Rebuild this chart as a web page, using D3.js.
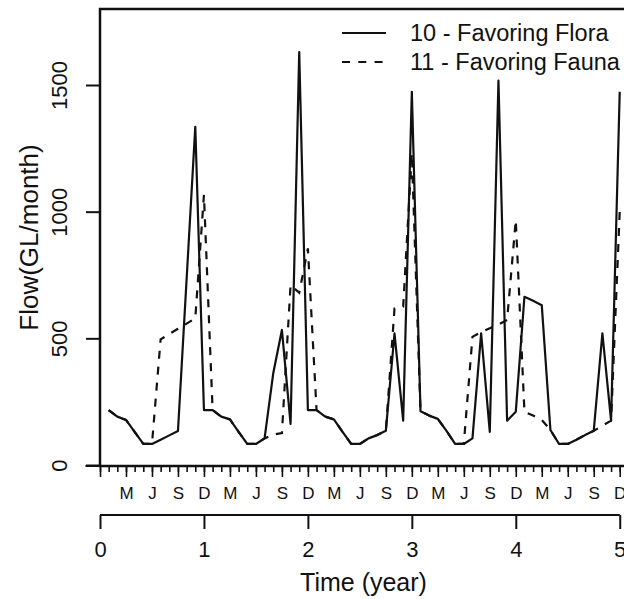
<!DOCTYPE html>
<html>
<head>
<meta charset="utf-8">
<script src="https://cdn.jsdelivr.net/npm/d3@7"></script>
<style>
  body { margin: 0; background: #fff; }
  svg { display: block; font-family: "Liberation Sans", Arial, sans-serif; }
</style>
</head>
<body>
<svg id="plot" width="624" height="599"></svg>
<script>
// monthly flow (GL/month), month 1 = Jan of year 1 ... month 60 = Dec of year 5
var months = d3.range(1, 61)

var flora = [
  217, 191, 178, 131, 83, 83, 100, 117, 134, 734, 1335, 217,
  217, 191, 180, 131, 83, 83, 105, 362, 533, 162, 1630, 217,
  217, 191, 180, 131, 83, 83, 105, 118, 135, 520, 175, 1473,
  212, 195, 182, 135, 83, 83, 105, 520, 131, 1517, 175, 210,
  664, 648, 631, 138, 83, 83, 100, 118, 135, 520, 175, 1473
]

var fauna = [
  217, 191, 178, 131, 83, 83, 496, 517, 538, 558, 579, 1066,
  217, 191, 180, 131, 83, 83, 105, 120, 126, 710, 680, 855,
  217, 191, 180, 131, 83, 83, 105, 118, 135, 618, 625, 1230,
  212, 195, 182, 135, 83, 83, 506, 525, 540, 555, 572, 967,
  210, 195, 178, 138, 83, 83, 100, 118, 135, 155, 175, 1000
]

var monthLabels = ["M", "J", "S", "D"]
var yearTicks = [0, 1, 2, 3, 4, 5]
var flowTicks = [0, 500, 1000, 1500]
var seriesNames = ["10 - Favoring Flora", "11 - Favoring Fauna"]

var plotLeft = 100, plotTop = 9, plotRight = 627, plotBottom = 466

var svg = d3.select("svg#plot")

var x = d3.scaleLinear().domain([0, 5.07]).range([plotLeft, plotRight])
var y = d3.scaleLinear().domain([0, 1800]).range([plotBottom - 1, plotTop])

var line = d3.line()
  .x(function(d) { return x(d.m / 12) })
  .y(function(d) { return y(d.v) })

function toPoints(vals) {
  return months.map(function(m, i) { return {m: m, v: vals[i]} })
}

// plot box
svg.append("rect")
  .attr("x", plotLeft).attr("y", plotTop)
  .attr("width", 560).attr("height", plotBottom - plotTop)
  .attr("fill", "none")
  .attr("stroke", "#111")
  .attr("stroke-width", 2.5)

// y axis
var yAxis = svg.append("g")
  .attr("transform", "translate(" + plotLeft + ",0)")
  .call(d3.axisLeft(y).tickValues(flowTicks).tickSize(14).tickFormat(d3.format("d")))
yAxis.select(".domain").remove()
yAxis.selectAll("line").attr("stroke", "#111").attr("stroke-width", 2)
yAxis.selectAll("text")
  .attr("x", null).attr("dy", null)
  .attr("text-anchor", "middle")
  .attr("transform", "translate(-33,0) rotate(-90)")
  .attr("fill", "#111")
  .style("font-size", "22px")

// month axis
var monthAxis = svg.append("g")
  .attr("transform", "translate(0," + plotBottom + ")")
  .call(d3.axisBottom(x).tickValues(d3.range(0, 61).map(function(m) { return m / 12 }))
    .tickSize(6).tickFormat(""))
monthAxis.select(".domain").remove()
monthAxis.selectAll("line").attr("stroke", "#111").attr("stroke-width", 1.6)

var quarterAxis = svg.append("g")
  .attr("transform", "translate(0," + plotBottom + ")")
  .call(d3.axisBottom(x).tickValues(d3.range(0, 61, 3).map(function(m) { return m / 12 }))
    .tickSize(11)
    .tickFormat(function(d, i) { return i == 0 ? "" : monthLabels[(i - 1) % 4] }))
quarterAxis.select(".domain").remove()
quarterAxis.selectAll("line").attr("stroke", "#111").attr("stroke-width", 1.6)
quarterAxis.selectAll("text")
  .attr("y", 27).attr("dy", "0.36em")
  .attr("fill", "#111")
  .style("font-size", "17px")

svg.append("line")
  .attr("x1", x(-0.14)).attr("x2", x(5.07))
  .attr("y1", plotBottom).attr("y2", plotBottom)
  .attr("stroke", "#111").attr("stroke-width", 2)

// year axis
var yearY = 515
var yearAxis = svg.append("g")
  .attr("transform", "translate(0," + yearY + ")")
  .call(d3.axisBottom(x).tickValues(yearTicks).tickSize(14).tickFormat(d3.format("d")))
yearAxis.select(".domain").remove()
yearAxis.selectAll("line").attr("stroke", "#111").attr("stroke-width", 2)
yearAxis.selectAll("text")
  .attr("y", 42).attr("dy", null)
  .attr("fill", "#111")
  .style("font-size", "22px")

svg.append("line")
  .attr("x1", x(0)).attr("x2", x(5))
  .attr("y1", yearY).attr("y2", yearY)
  .attr("stroke", "#111").attr("stroke-width", 2)

// axis titles
svg.append("text")
  .attr("x", (plotLeft + plotRight) / 2).attr("y", 591)
  .attr("text-anchor", "middle")
  .attr("fill", "#111")
  .style("font-size", "25px")
  .text("Time (year)")

svg.append("text")
  .attr("transform", "translate(38," + ((plotTop + plotBottom) / 2) + ") rotate(-90)")
  .attr("text-anchor", "middle")
  .attr("fill", "#111")
  .style("font-size", "26px")
  .text("Flow(GL/month)")

// series
svg.append("path")
  .datum(toPoints(fauna))
  .attr("fill", "none")
  .attr("stroke", "#111")
  .attr("stroke-width", 2.2)
  .attr("stroke-dasharray", "8,8")
  .attr("d", line)

svg.append("path")
  .datum(toPoints(flora))
  .attr("fill", "none")
  .attr("stroke", "#111")
  .attr("stroke-width", 2.2)
  .attr("stroke-linejoin", "round")
  .attr("d", line)

// legend
var legend = svg.append("g")
legend.selectAll("g")
  .data(seriesNames)
  .enter().append("g")
  .attr("transform", function(d, i) { return "translate(0," + (33 + i * 29) + ")" })
  .each(function(d, i) {
    var g = d3.select(this)
    g.append("line")
      .attr("x1", 342).attr("x2", 386)
      .attr("stroke", "#111").attr("stroke-width", 2)
      .attr("stroke-dasharray", i == 0 ? null : "8,8.3")
    g.append("text")
      .attr("x", 410).attr("dy", "0.35em")
      .attr("fill", "#111")
      .style("font-size", "23.5px")
      .text(d)
  })
</script>
</body>
</html>
